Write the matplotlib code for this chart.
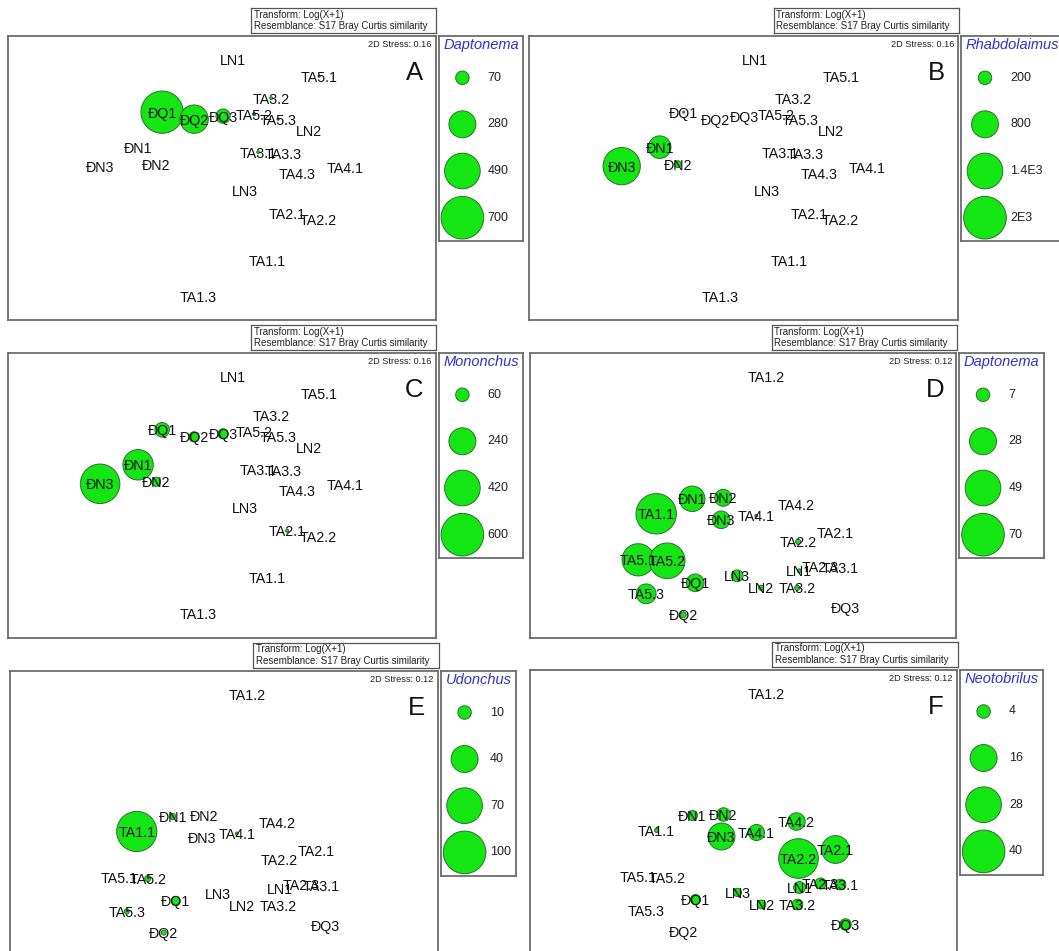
import matplotlib
matplotlib.use("Agg")
import matplotlib.pyplot as plt
import numpy as np

plt.rcParams['font.family'] = ['Liberation Sans', 'DejaVu Sans']

# ---------------- data ----------------
# NMDS configuration, set 1 (panels A-C)
top_samples = ['LN1', 'LN2', 'LN3', 'ĐN1', 'ĐN2', 'ĐN3', 'ĐQ1', 'ĐQ2', 'ĐQ3',
               'TA1.1', 'TA1.3', 'TA2.1', 'TA2.2', 'TA3.1', 'TA3.2', 'TA3.3',
               'TA4.1', 'TA4.3', 'TA5.1', 'TA5.2', 'TA5.3']
top_x = [0.11, 0.87, 0.23, -0.84, -0.66, -1.22, -0.60, -0.28, 0.01,
         0.45, -0.24, 0.65, 0.96, 0.36, 0.49, 0.61,
         1.23, 0.75, 0.97, 0.32, 0.56]
top_y = [1.19, 0.48, -0.12, 0.31, 0.14, 0.12, 0.66, 0.59, 0.62,
         -0.82, -1.18, -0.35, -0.41, 0.26, 0.80, 0.25,
         0.11, 0.05, 1.02, 0.64, 0.59]

# NMDS configuration, set 2 (panels D-F)
bot_samples = ['LN1', 'LN2', 'LN3', 'ĐN1', 'ĐN2', 'ĐN3', 'ĐQ1', 'ĐQ2', 'ĐQ3',
               'TA1.1', 'TA1.2', 'TA2.1', 'TA2.2', 'TA2.3', 'TA3.1', 'TA3.2',
               'TA4.1', 'TA4.2', 'TA5.1', 'TA5.2', 'TA5.3']
bot_x = [0.56, 0.18, -0.06, -0.51, -0.20, -0.22, -0.48, -0.60, 1.02,
         -0.87, 0.23, 0.92, 0.55, 0.77, 0.97, 0.54,
         0.13, 0.53, -1.05, -0.76, -0.97]
bot_y = [-0.75, -0.92, -0.80, -0.03, -0.02, -0.24, -0.87, -1.19, -1.12,
         -0.18, 1.19, -0.37, -0.46, -0.71, -0.72, -0.92,
         -0.20, -0.09, -0.64, -0.65, -0.98]

# abundances (same order as the sample lists)
daptonema_top = [0, 0, 0, 0, 0, 0, 690, 310, 78,
                 0, 0, 0, 0, 3, 3, 0,
                 0, 0, 2, 4, 2]
rhabdolaimus_top = [0, 0, 0, 560, 52, 1530, 5, 0, 0,
                    0, 0, 0, 0, 0, 0, 0,
                    0, 0, 0, 0, 0]
mononchus_top = [0, 0, 0, 306, 27, 516, 70, 34, 34,
                 0, 0, 3, 0, 0, 0, 0,
                 0, 0, 0, 0, 0]
daptonema_bot = [0.6, 1, 5.4, 25, 11, 12, 12, 1.4, 0,
                 63, 0, 0, 1, 0, 0, 1,
                 0.3, 0, 40, 49, 15]
udonchus_bot = [0, 0, 0, 2, 0, 0, 4, 1.4, 0,
                89, 0, 0, 0, 0, 0, 0,
                0.5, 0, 0, 2, 1.4]
neotobrilus_bot = [3.1, 1.7, 1.5, 2.2, 4, 16, 2.2, 0, 2.9,
                   0.35, 0, 17, 34.6, 2.7, 2.5, 2.5,
                   5.7, 6.7, 0, 0, 0]

# legend scales
leg_A = [70, 280, 490, 700]
leg_A_lab = ['70', '280', '490', '700']
leg_B = [200, 800, 1400, 2000]
leg_B_lab = ['200', '800', '1.4E3', '2E3']
leg_C = [60, 240, 420, 600]
leg_C_lab = ['60', '240', '420', '600']
leg_D = [7, 28, 49, 70]
leg_D_lab = ['7', '28', '49', '70']
leg_E = [10, 40, 70, 100]
leg_E_lab = ['10', '40', '70', '100']
leg_F = [4, 16, 28, 40]
leg_F_lab = ['4', '16', '28', '40']

taxa = ['Daptonema', 'Rhabdolaimus', 'Mononchus', 'Daptonema', 'Udonchus', 'Neotobrilus']
letters = ['A', 'B', 'C', 'D', 'E', 'F']
stress = ['0.16', '0.16', '0.16', '0.12', '0.12', '0.12']

# ---------------- layout ----------------
W, H = 1059, 951
fig = plt.figure(figsize=(W / 100, H / 100), dpi=100)
fig.patch.set_facecolor('white')


def frect(x, y, w, h):
    return [x / W, 1 - (y + h) / H, w / W, h / H]


def fx(x):
    return x / W


def fy(y):
    return 1 - y / H


FACE = '#14e614'
EDGE = '#2f6f2f'
DMAX = 42.6  # px diameter of largest legend value


def sizes(vals, vmax):
    v = np.asarray(vals, dtype=float)
    d = DMAX * np.sqrt(v / vmax)  # px
    return (d * 0.72) ** 2


panels = [
    # box left, top, width, height, legend width
    (8.4, 36.3, 427.4, 283.7, 84.0),
    (529.0, 36.3, 429.4, 283.7, 125.0),
    (8.4, 353.3, 427.4, 285.0, 84.0),
    (530.0, 353.3, 426.4, 285.0, 84.5),
    (9.5, 671.0, 428.5, 285.0, 74.5),
    (530.0, 670.0, 427.0, 285.0, 83.0),
]

data_sets = [
    (top_samples, top_x, top_y, daptonema_top, leg_A, leg_A_lab),
    (top_samples, top_x, top_y, rhabdolaimus_top, leg_B, leg_B_lab),
    (top_samples, top_x, top_y, mononchus_top, leg_C, leg_C_lab),
    (bot_samples, bot_x, bot_y, daptonema_bot, leg_D, leg_D_lab),
    (bot_samples, bot_x, bot_y, udonchus_bot, leg_E, leg_E_lab),
    (bot_samples, bot_x, bot_y, neotobrilus_bot, leg_F, leg_F_lab),
]

BOXC = '#6c6c6c'

for i, ((bl, bt, bw, bh, lw), (samp, xs, ys, ab, lv, ll)) in enumerate(zip(panels, data_sets)):
    br = bl + bw
    # main plot box
    ax = fig.add_axes(frect(bl, bt, bw, bh))
    ax.set_xlim(-bw / 200, bw / 200)
    ax.set_ylim(-bh / 200, bh / 200)
    ax.set_xticks([])
    ax.set_yticks([])
    for s in ax.spines.values():
        s.set_color(BOXC)
        s.set_linewidth(1.3)
    vmax = max(lv)
    ab_arr = np.asarray(ab, dtype=float)
    mask = ab_arr > 0
    ax.scatter(np.asarray(xs)[mask], np.asarray(ys)[mask], s=sizes(ab_arr[mask], vmax),
               facecolor=FACE, edgecolor=EDGE, linewidth=0.7, zorder=2)
    for name, x, y in zip(samp, xs, ys):
        ax.text(x, y, name, ha='center', va='center_baseline', fontsize=10.3,
                color='#111111', zorder=3)

    # stress text and letter
    fig.text(fx(br - 4.4), fy(bt + 8.3), '2D Stress: ' + stress[i], ha='right',
             va='center', fontsize=6.6, color='#222222')
    fig.text(fx(br - 21.5), fy(bt + 37), letters[i], ha='center', va='center',
             fontsize=18.5, color='#111111')

    # header box
    hw = 185.5
    hax = fig.add_axes(frect(br + 0.7 - hw, bt - 27.9, hw, 24.4))
    hax.set_xticks([])
    hax.set_yticks([])
    hax.set_xlim(0, hw)
    hax.set_ylim(24.4, 0)
    for s in hax.spines.values():
        s.set_color('#555555')
        s.set_linewidth(0.9)
    hax.text(2.6, 6.2, 'Transform: Log(X+1)', fontsize=7, va='center', ha='left',
             color='#222222')
    hax.text(2.6, 18.0, 'Resemblance: S17 Bray Curtis similarity', fontsize=7,
             va='center', ha='left', color='#222222')

    # legend box
    lax = fig.add_axes(frect(br + 3, bt, lw, 205))
    lax.set_xlim(0, lw)
    lax.set_ylim(205, 0)
    lax.set_xticks([])
    lax.set_yticks([])
    for s in lax.spines.values():
        s.set_color(BOXC)
        s.set_linewidth(1.3)
    lax.text(4.6, 8.7, taxa[i], fontsize=10.5, style='italic', color='#3030d8',
             ha='left', va='center')
    ly = [41.5, 88.0, 134.7, 181.4]
    lax.scatter([23.6] * 4, ly, s=sizes(lv, vmax), facecolor=FACE, edgecolor=EDGE,
                linewidth=0.7, zorder=2, clip_on=False)
    for yv, lab in zip(ly, ll):
        lax.text(49, yv, lab, fontsize=9, ha='left', va='center', color='#222222')

fig.savefig('out.png', dpi=100, facecolor='white')
